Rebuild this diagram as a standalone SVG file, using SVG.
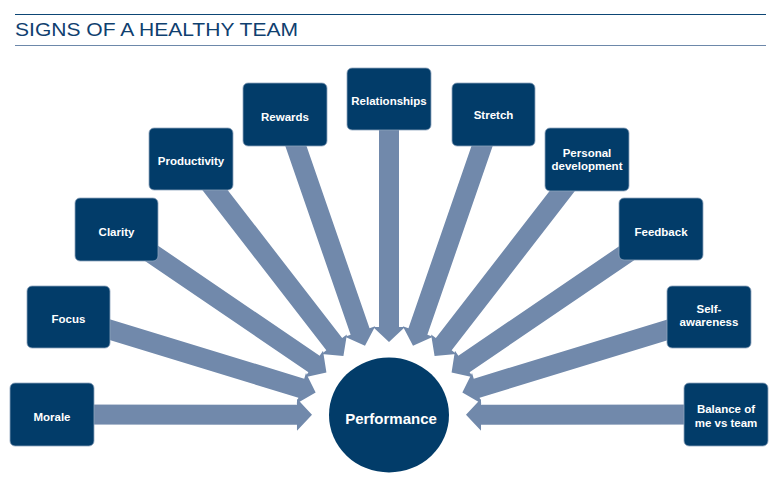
<svg xmlns="http://www.w3.org/2000/svg" xmlns:xlink="http://www.w3.org/1999/xlink" width="780" height="496" viewBox="0 0 780 496">
<style>
.box{fill:#023c69;stroke:#8ea3bd;stroke-width:0.8}
.lbl{font-family:"Liberation Sans",Arial,sans-serif;font-weight:bold;font-size:11.5px;fill:#ffffff;text-anchor:middle}
.arr{fill:#7189ab}
.title{font-family:"Liberation Sans",Arial,sans-serif;font-size:19px;fill:#0f406f}
</style>
<defs>
<path id="arrow" class="arr" d="M-345,-10 H-92 V-16 L-77,0 L-92,16 V10 H-345 Z"/>
</defs>
<rect width="780" height="496" fill="#ffffff"/>
<g id="title">
<line x1="15" y1="14.5" x2="766" y2="14.5" stroke="#0d4675" stroke-width="1.2"/>
<text class="title" x="15" y="36" textLength="283" lengthAdjust="spacingAndGlyphs">SIGNS OF A HEALTHY TEAM</text>
<line x1="15" y1="45.5" x2="766" y2="45.5" stroke="#6d88aa" stroke-width="1.2"/>
</g>
<g id="connectors">
<use xlink:href="#arrow" transform="translate(389,415) rotate(0.1)"/>
<use xlink:href="#arrow" transform="translate(389,415) rotate(17) translate(0.3,0)"/>
<use xlink:href="#arrow" transform="translate(389,415) rotate(34.24) translate(1.3,0)"/>
<use xlink:href="#arrow" transform="translate(389,415) rotate(52.28) translate(2.5,0)"/>
<use xlink:href="#arrow" transform="translate(389,415) rotate(70.91) translate(3.6,0)"/>
<use xlink:href="#arrow" transform="translate(389,415) rotate(90) translate(4,0)"/>
<use xlink:href="#arrow" transform="translate(389,415) rotate(109.09) translate(3.6,0)"/>
<use xlink:href="#arrow" transform="translate(389,415) rotate(127.72) translate(2.5,0)"/>
<use xlink:href="#arrow" transform="translate(389,415) rotate(145.76) translate(1.3,0)"/>
<use xlink:href="#arrow" transform="translate(389,415) rotate(163) translate(0.3,0)"/>
<use xlink:href="#arrow" transform="translate(389,415) rotate(179.9)"/>
</g>
<g id="performance">
<ellipse cx="389" cy="415" rx="60" ry="57.5" fill="#023c69"/>
<text class="lbl" x="391" y="424" style="font-size:15px">Performance</text>
</g>
<g id="morale">
<rect class="box" x="10" y="383" width="84" height="63" rx="5"/>
<text class="lbl" x="52" y="421">Morale</text>
</g>
<g id="focus">
<rect class="box" x="27" y="286" width="83" height="62" rx="5"/>
<text class="lbl" x="68.5" y="323">Focus</text>
</g>
<g id="clarity">
<rect class="box" x="75" y="198" width="83" height="63" rx="5"/>
<text class="lbl" x="116.5" y="236">Clarity</text>
</g>
<g id="productivity">
<rect class="box" x="149" y="128" width="84" height="62" rx="5"/>
<text class="lbl" x="191" y="165">Productivity</text>
</g>
<g id="rewards">
<rect class="box" x="243" y="83" width="84" height="63" rx="5"/>
<text class="lbl" x="285" y="120.5">Rewards</text>
</g>
<g id="relationships">
<rect class="box" x="347" y="68" width="84" height="62" rx="5"/>
<text class="lbl" x="389" y="105">Relationships</text>
</g>
<g id="stretch">
<rect class="box" x="452" y="83" width="83" height="63" rx="5"/>
<text class="lbl" x="493.5" y="119">Stretch</text>
</g>
<g id="personal-development">
<rect class="box" x="545" y="128" width="84" height="63" rx="5"/>
<text class="lbl" x="587" y="157">Personal</text>
<text class="lbl" x="587" y="170">development</text>
</g>
<g id="feedback">
<rect class="box" x="619" y="198" width="84" height="62" rx="5"/>
<text class="lbl" x="661" y="236">Feedback</text>
</g>
<g id="self-awareness">
<rect class="box" x="667" y="286" width="84" height="62" rx="5"/>
<text class="lbl" x="709" y="313">Self-</text>
<text class="lbl" x="709" y="326">awareness</text>
</g>
<g id="balance">
<rect class="box" x="684" y="383" width="84" height="63" rx="5"/>
<text class="lbl" x="726" y="413">Balance of</text>
<text class="lbl" x="726" y="427">me vs team</text>
</g>
</svg>
